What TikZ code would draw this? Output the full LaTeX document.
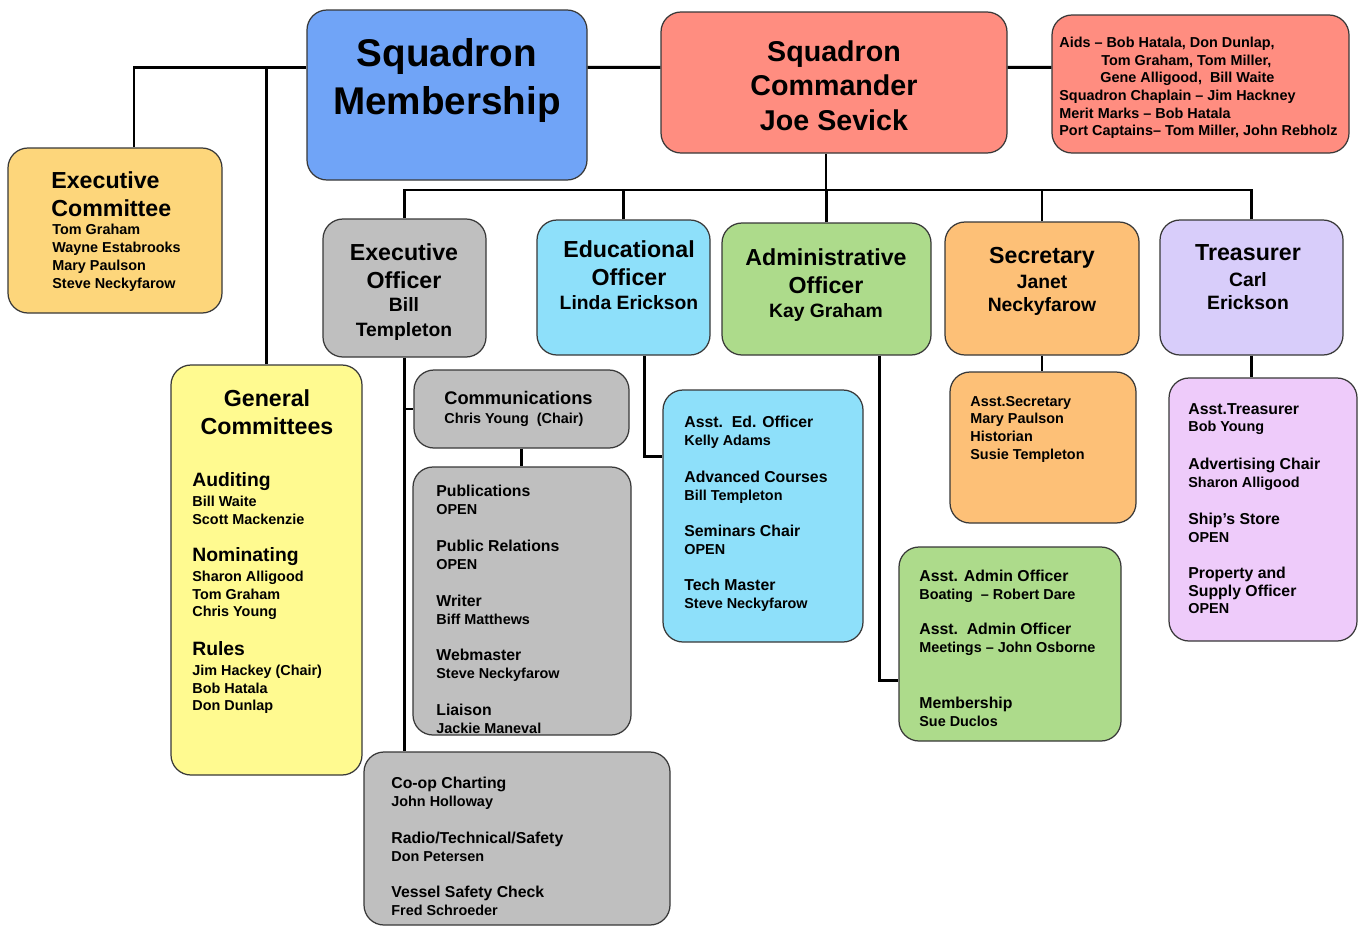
\documentclass[tikz,border=0pt]{standalone}
\usepackage{fontspec}
\setmainfont{Liberation Sans}
\usetikzlibrary{fit,calc}

\definecolor{membblue}{HTML}{70A4F7}
\definecolor{cmdrred}{HTML}{FF8D80}
\definecolor{excomgold}{HTML}{FDD67B}
\definecolor{genyellow}{HTML}{FFFA90}
\definecolor{xogray}{HTML}{BFBFBF}
\definecolor{edblue}{HTML}{8EE0FA}
\definecolor{admgreen}{HTML}{ADDB8B}
\definecolor{secorange}{HTML}{FDC077}
\definecolor{trelilac}{HTML}{D8CDFA}
\definecolor{trepink}{HTML}{EECBFA}

% heading of a small group
\newcommand{\hd}[1]{{\fontsize{9}{10}\selectfont #1}}

\begin{document}
\begin{tikzpicture}[x=0.02cm,y=-0.02cm,
    box/.style={draw=black!78,line width=0.7pt,rounded corners=0.4cm,inner sep=0pt},
    link/.style={line width=1.6pt},
    txt/.style={inner sep=0pt,anchor=north west,align=left,font=\bfseries\fontsize{8.2}{10}\selectfont},
    hdr/.style={inner sep=0pt,anchor=north,align=center,font=\bfseries\fontsize{13.2}{15.9}\selectfont},
    nm/.style={inner sep=0pt,anchor=north,align=center,font=\bfseries\fontsize{11}{13.5}\selectfont}]
    \useasboundingbox (0,0) rectangle (1365,927);
    \fill[white] (0,0) rectangle (1365,927);

    % Boxes
    \node[box,fill=membblue,fit={(307,10)(587,180)}] (memb) {};
    \node[box,fill=cmdrred,fit={(661,12)(1007,153)}] (cmdr) {};
    \node[box,fill=cmdrred,fit={(1052,15)(1349,153)}] (aids) {};
    \node[box,fill=excomgold,fit={(8,148)(222,313)}] (excom) {};
    \node[box,fill=genyellow,fit={(171,365)(362,775)}] (gencom) {};
    \node[box,fill=xogray,fit={(323,219)(486,357)}] (xo) {};
    \node[box,fill=edblue,fit={(537,220)(710,355)}] (edo) {};
    \node[box,fill=admgreen,fit={(722,223)(931,355)}] (ado) {};
    \node[box,fill=secorange,fit={(945,222)(1139,355)}] (sec) {};
    \node[box,fill=trelilac,fit={(1160,220)(1343,355)}] (tre) {};
    \node[box,fill=xogray,fit={(414,370)(629,448)}] (comm) {};
    \node[box,fill=xogray,fit={(413,467)(631,735)}] (pub) {};
    \node[box,fill=xogray,fit={(364,752)(670,925)}] (coop) {};
    \node[box,fill=edblue,fit={(663,390)(863,642)}] (asted) {};
    \node[box,fill=secorange,fit={(950,372)(1136,523)}] (astsec) {};
    \node[box,fill=admgreen,fit={(899,547)(1121,741)}] (astadm) {};
    \node[box,fill=trepink,fit={(1169,378)(1357,641)}] (asttre) {};

    % Connectors
    \coordinate (mleft) at ($(memb.north west)+(0,58)$);
    \coordinate (bus) at (826,190);
    \draw[link] ($(excom.north)+(19,0)$) |- (mleft);
    \draw[link] (gencom.north) |- (mleft);
    \draw[link] ($(memb.north east)+(0,58)$) -- ($(cmdr.north west)+(0,56)$);
    \draw[link] ($(cmdr.north east)+(0,56)$) -- ($(aids.north west)+(0,53)$);
    \draw[link] (bus |- cmdr.south) -- (bus);
    \foreach \n in {xo,edo,ado,sec,tre}
        \draw[link] (\n.north) |- (bus);
    \draw[link] (xo.south) -- (xo.south |- coop.north);
    \draw[link] (xo.south |- comm.west) -- (comm.west);
    \draw[link] (comm.south) -- (comm.south |- pub.north);
    \draw[link] ($(edo.south)+(21,0)$) |- ($(asted.north west)+(0,67)$);
    \draw[link] ($(ado.south)+(53,0)$) |- ($(astadm.north west)+(0,134)$);
    \draw[link] (sec.south) -- (sec.south |- astsec.north);
    \draw[link] (tre.south) -- (tre.south |- asttre.north);

    % Top row
    \node[hdr,font=\bfseries\fontsize{22}{27.2}\selectfont] (membtxt) at (447,38) {Squadron\\Membership};
    \node[hdr,font=\bfseries\fontsize{16.3}{19.8}\selectfont] (cmdrtxt) at (834,40) {Squadron\\Commander\\Joe Sevick};
    \node[txt] (aidstxt) at (1059,37) {Aids – Bob Hatala, Don Dunlap,\\
        \hspace*{0.84cm}Tom Graham, Tom Miller,\\
        \hspace*{0.82cm}Gene Alligood,\ \ Bill Waite\\
        Squadron Chaplain – Jim Hackney\\
        Merit Marks – Bob Hatala\\
        Port Captains– Tom Miller, John Rebholz};

    % Committees
    \node[hdr,anchor=north west,align=left] (excomhdr) at (51,171) {Executive\\Committee};
    \node[txt,font=\bfseries\fontsize{8.2}{10.2}\selectfont] (excomtxt) at (52,224) {Tom Graham\\Wayne Estabrooks\\Mary Paulson\\Steve Neckyfarow};
    \node[hdr] (genhdr) at (267,389) {General\\Committees};
    \foreach \y/\h/\n [count=\i] in {479/Auditing/{Bill Waite\\Scott Mackenzie},
        554/Nominating/{Sharon Alligood\\Tom Graham\\Chris Young},
        648/Rules/{Jim Hackey (Chair)\\Bob Hatala\\Don Dunlap}}
        \node[txt] (gen\i) at (192,\y-7) {{\fontsize{11}{12}\selectfont\h}\\[1.5pt]\n};

    % Officers
    \node[hdr] (xohdr) at (404,243) {Executive\\Officer};
    \node[nm,font=\bfseries\fontsize{11}{14.2}\selectfont] (xonm) at (404,297) {Bill\\Templeton};
    \node[hdr] (edohdr) at (629,240) {Educational\\Officer};
    \node[nm] (edonm) at (629,295) {Linda Erickson};
    \node[hdr] (adohdr) at (826,248) {Administrative\\Officer};
    \node[nm] (adonm) at (826,303) {Kay Graham};
    \node[hdr] (sechdr) at (1042,247) {Secretary};
    \node[nm,font=\bfseries\fontsize{11}{13}\selectfont] (secnm) at (1042,275) {Janet\\Neckyfarow};
    \node[hdr] (trehdr) at (1248,244) {Treasurer};
    \node[nm,font=\bfseries\fontsize{11}{13}\selectfont] (trenm) at (1248,272) {Carl\\Erickson};

    % Executive officer groups
    \node[txt] (commtxt) at (444,391) {{\fontsize{10.4}{11}\selectfont Communications}\\[1pt]Chris Young\ \ (Chair)};
    \foreach \y/\h/\n [count=\i] in {491/Publications/OPEN, 546/Public Relations/OPEN,
        601/Writer/Biff Matthews, 655/Webmaster/Steve Neckyfarow, 710/Liaison/Jackie Maneval}
        \node[txt] (pub\i) at (436,\y-6) {\hd{\h}\\\n};
    \foreach \y/\h/\n [count=\i] in {783/Co-op Charting/John Holloway,
        838/{Radio/Technical/Safety}/Don Petersen, 892/Vessel Safety Check/Fred Schroeder}
        \node[txt] (coop\i) at (391,\y-6) {\hd{\h}\\\n};

    % Educational groups
    \foreach \y/\h/\n [count=\i] in {422/Asst.\ \ Ed. Officer/Kelly Adams, 477/Advanced Courses/Bill Templeton,
        531/Seminars Chair/OPEN, 585/Tech Master/Steve Neckyfarow}
        \node[txt] (asted\i) at (684,\y-6) {\hd{\h}\\\n};

    % Administrative groups
    \foreach \y/\h/\n [count=\i] in {576/Asst. Admin Officer/Boating\ \ – Robert Dare,
        629/Asst.\ \ Admin Officer/Meetings – John Osborne, 703/Membership/Sue Duclos}
        \node[txt] (astadm\i) at (919,\y-6) {\hd{\h}\\\n};

    % Secretary and treasurer groups
    \node[txt] (astsectxt) at (970,396) {Asst.Secretary\\Mary Paulson\\Historian\\Susie Templeton};
    \foreach \y/\h/\n [count=\i] in {409/Asst.Treasurer/Bob Young, 464/Advertising Chair/Sharon Alligood,
        519/Ship’s Store/OPEN}
        \node[txt] (asttre\i) at (1188,\y-6) {\hd{\h}\\\n};
    \node[txt] (asttre4) at (1188,567) {\hd{Property and}\\\hd{Supply Officer}\\OPEN};
\end{tikzpicture}
\end{document}
